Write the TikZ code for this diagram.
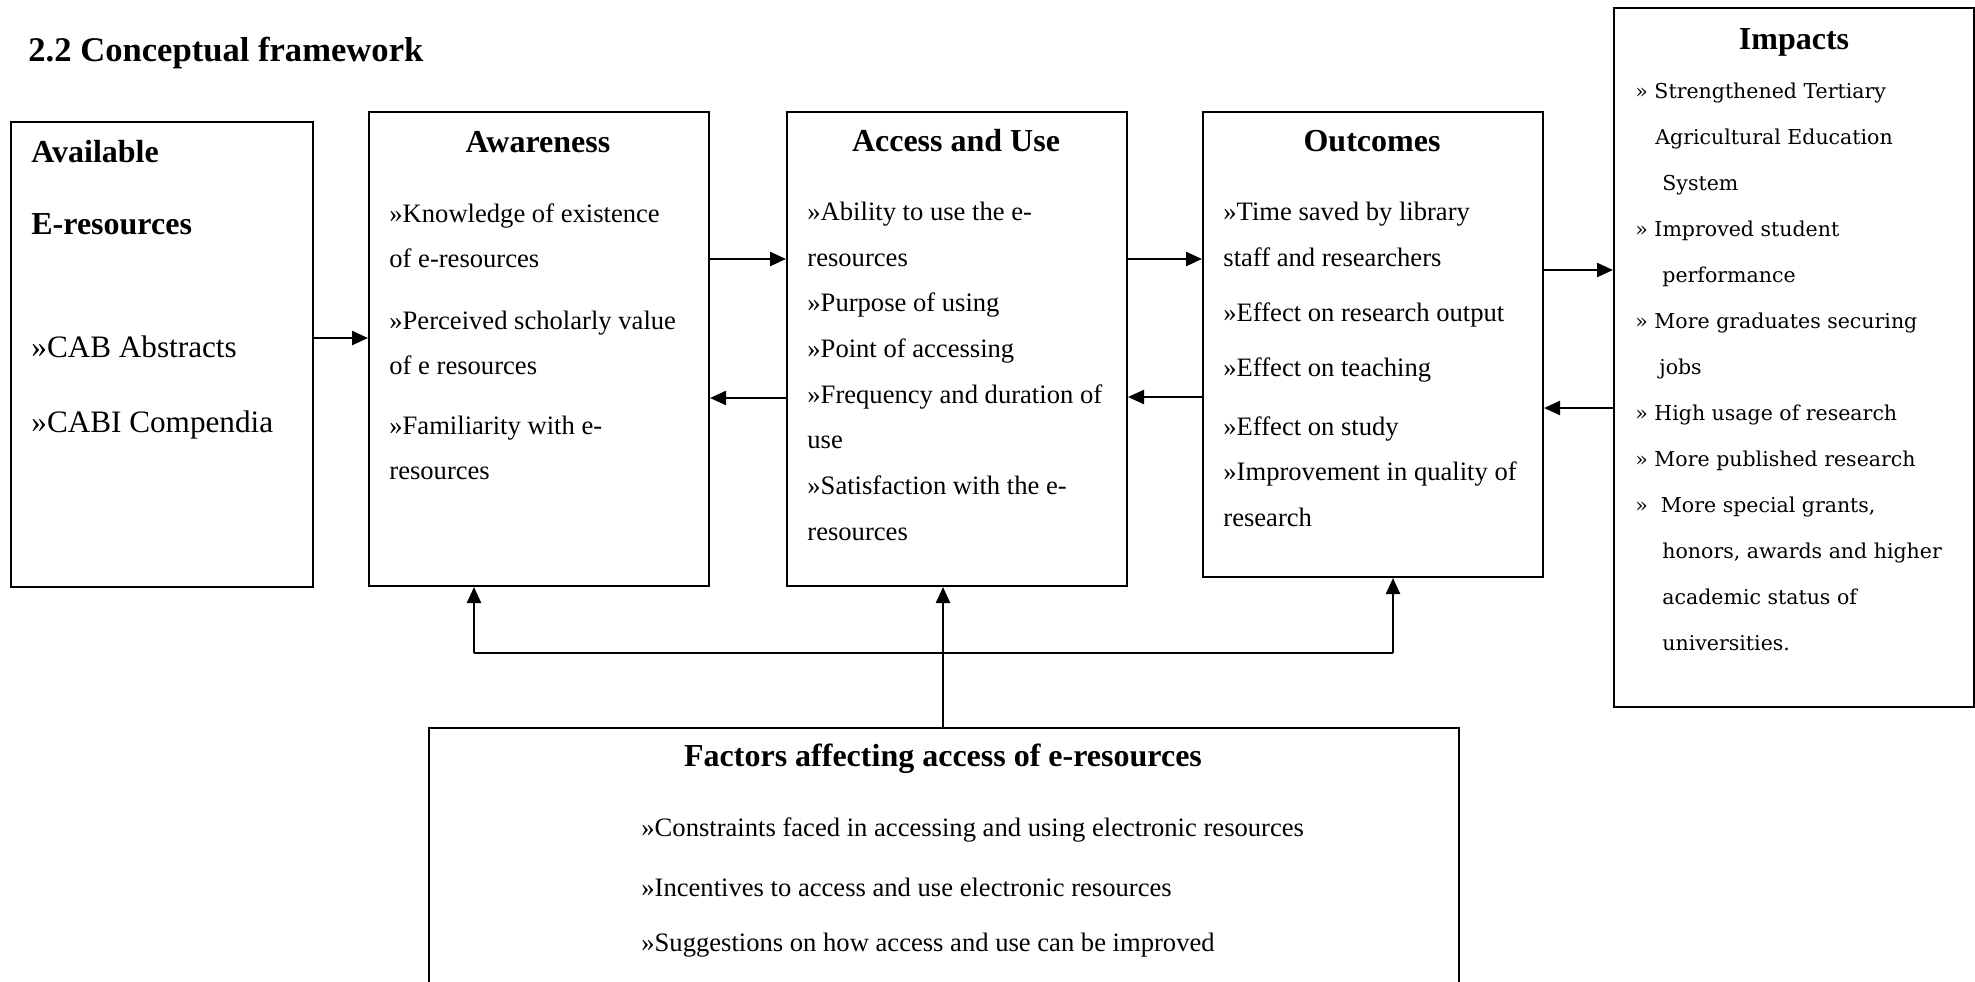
\documentclass[tikz,border=0pt]{standalone}
\usepackage{fontspec}
\setmainfont{Liberation Serif}
\newfontfamily\impfont{DejaVu Serif}
\usetikzlibrary{arrows.meta}

\tikzset{
  box/.style={draw, line width=1pt, inner sep=0pt, anchor=north west},
  head/.style={font=\fontsize{16}{19}\selectfont\bfseries, inner sep=0pt, anchor=base},
  item/.style={font=\fontsize{13.3}{16}\selectfont, inner sep=0pt, anchor=base west},
  impitem/.style={font=\impfont\fontsize{10.25}{12}\selectfont, inner sep=0pt, anchor=base west},
  arr/.style={line width=1.2pt, -{Triangle[length=8pt,width=7pt]}},
}

\begin{document}
\begin{tikzpicture}[x=0.5pt, y=-0.5pt]
\useasboundingbox (0,0) rectangle (1975,981);
\clip (0,0) rectangle (1975,981);

\node[font=\fontsize{17.3}{20}\selectfont\bfseries, inner sep=0pt, anchor=base west] (title) at (28,61) {2.2 Conceptual framework};

% the boxes
\node[box, minimum width=151pt, minimum height=232.5pt] (avail) at (10,121) {};
\node[box, minimum width=170pt, minimum height=237pt] (aware) at (368,111) {};
\node[box, minimum width=170pt, minimum height=237pt] (access) at (786,111) {};
\node[box, minimum width=170pt, minimum height=232.5pt] (outc) at (1202,111) {};
\node[box, minimum width=180pt, minimum height=349.5pt] (impact) at (1613,7) {};
\node[box, minimum width=515pt, minimum height=150pt] (factors) at (428,727) {};

% available e-resources
\node[head, anchor=base west] (availA) at (31,162) {Available};
\node[head, anchor=base west] (availB) at (31,234) {E-resources};
\node[item, font=\fontsize{15.6}{18}\selectfont] (cab) at (31,357) {»CAB Abstracts};
\node[item, font=\fontsize{15.6}{18}\selectfont] (cabi) at (31,432) {»CABI Compendia};

% awareness
\node[head] (awareH) at (538,152) {Awareness};
\foreach \y/\t in {222/{»Knowledge of existence}, 267/{of e-resources},
    329/{»Perceived scholarly value}, 374/{of e resources},
    434/{»Familiarity with e-}, 479/{resources}}
  \node[item] (aw\y) at (389,\y) {\t};

% access and use
\node[head] (accessH) at (956,151) {Access and Use};
\foreach \y/\t in {220/{»Ability to use the e-}, 266/{resources},
    311/{»Purpose of using}, 357/{»Point of accessing},
    403/{»Frequency and duration of}, 448/{use},
    494/{»Satisfaction with the e-}, 540/{resources}}
  \node[item] (ac\y) at (807,\y) {\t};

% outcomes
\node[head] (outcH) at (1372,151) {Outcomes};
\foreach \y/\t in {220/{»Time saved by library}, 266/{staff and researchers},
    321/{»Effect on research output}, 376/{»Effect on teaching},
    435/{»Effect on study}, 480/{»Improvement in quality of},
    526/{research}}
  \node[item] (oc\y) at (1223,\y) {\t};

% impacts
\node[head] (impactH) at (1794,49) {Impacts};
\foreach \x/\y/\t in {1635/98/{» Strengthened Tertiary}, 1655/144/{Agricultural Education},
    1662/190/{System}, 1635/236/{» Improved student}, 1662/282/{performance},
    1635/328/{» More graduates securing}, 1659/374/{jobs},
    1635/420/{» High usage of research}, 1635/466/{» More published research},
    1635/512/{»\ \ More special grants,}, 1662/558/{honors, awards and higher},
    1662/604/{academic status of}, 1662/650/{universities.}}
  \node[impitem] (im\y) at (\x,\y) {\t};

% factors
\node[head] (factorsH) at (943,766) {Factors affecting access of e-resources};
\foreach \y/\t in {836/{»Constraints faced in accessing and using electronic resources},
    896/{»Incentives to access and use electronic resources},
    951/{»Suggestions on how access and use can be improved}}
  \node[item] (fa\y) at (641,\y) {\t};

% arrows between boxes
\draw[arr] (avail.east |- 0,338) -- (aware.west |- 0,338);
\draw[arr] (aware.east |- 0,259) -- (access.west |- 0,259);
\draw[arr] (access.west |- 0,398) -- (aware.east |- 0,398);
\draw[arr] (access.east |- 0,259) -- (outc.west |- 0,259);
\draw[arr] (outc.west |- 0,397) -- (access.east |- 0,397);
\draw[arr] (outc.east |- 0,270) -- (impact.west |- 0,270);
\draw[arr] (impact.west |- 0,408) -- (outc.east |- 0,408);

% factors feed back up
\coordinate (busL) at (474,653);
\coordinate (busR) at (1393,653);
\coordinate (busM) at (943,653);
\draw[line width=1pt] (busL) -- (busR);
\draw[arr] (busL) -- (aware.south -| busL);
\draw[arr] (busR) -- (outc.south -| busR);
\draw[arr] (factors.north -| busM) -- (access.south -| busM);
\end{tikzpicture}
\end{document}
